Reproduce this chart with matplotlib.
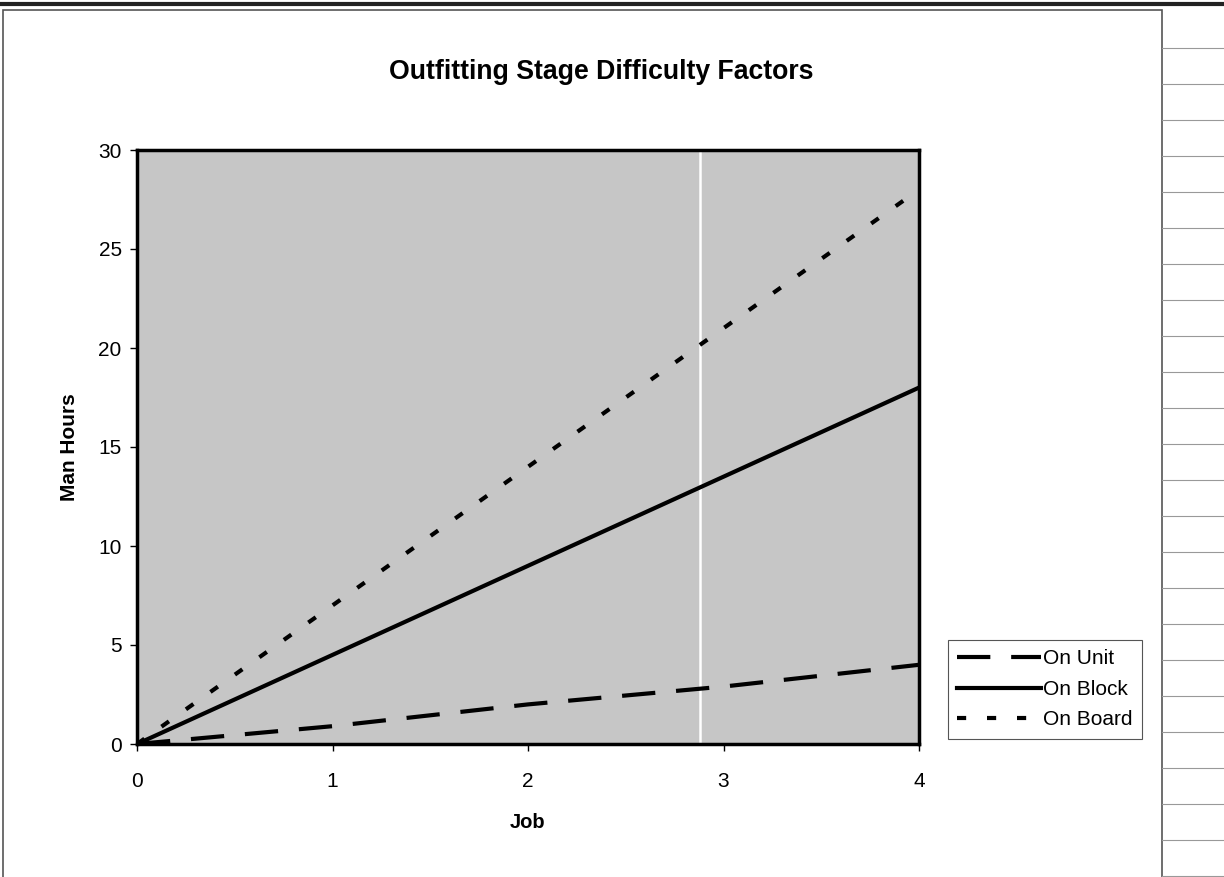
import matplotlib.pyplot as plt
from matplotlib.lines import Line2D
from matplotlib.patches import Rectangle

plt.rcParams['font.family'] = ['Liberation Sans', 'DejaVu Sans']

job = [0, 1, 2, 3, 4]
on_unit = [0, 0.9, 2.0, 2.9, 4.0]
on_block = [0, 4.5, 9.0, 13.5, 18.0]
on_board = [0, 7.0, 14.0, 21.0, 28.0]

W, H = 1224, 877
fig = plt.figure(figsize=(W / 100, H / 100), dpi=100)

# chart area border and spreadsheet bits around it
fig.add_artist(Rectangle((3 / W, -0.01), 1159 / W, (H - 10) / H + 0.01, transform=fig.transFigure,
                         fill=False, edgecolor='#555555', lw=1.2))
fig.add_artist(Line2D([0, 1], [1 - 4 / H, 1 - 4 / H], transform=fig.transFigure, color='#222222', lw=3))
for yp in range(48, H, 36):
    fig.add_artist(Line2D([1162 / W, 1], [1 - yp / H, 1 - yp / H], transform=fig.transFigure,
                          color='#999999', lw=0.8))

ax = fig.add_axes([137 / W, 1 - 744 / H, 782 / W, 594 / H])
ax.set_facecolor('#c6c6c6')

# scan artefact: thin white stripe through the plot area
ax.axvline(2.88, color='white', lw=1.8, zorder=1)

ax.plot(job, on_unit, color='black', lw=3, dashes=(8, 5), label='On Unit', zorder=3)
ax.plot(job, on_block, color='black', lw=3, label='On Block', zorder=3)
ax.plot(job, on_board, color='black', lw=3, dashes=(2.2, 5), label='On Board', zorder=3)

ax.set_xlim(0, 4)
ax.set_ylim(0, 30)
ax.set_xticks([0, 1, 2, 3, 4])
ax.set_yticks([0, 5, 10, 15, 20, 25, 30])
ax.tick_params(labelsize=15, length=5, width=1, direction='out')
ax.tick_params(axis='x', pad=15)
ax.tick_params(axis='y', pad=6)
for s in ax.spines.values():
    s.set_linewidth(2.5)

ax.set_xlabel('Job', fontsize=14.5, fontweight='bold', labelpad=16)
ax.set_ylabel('Man Hours', fontsize=15, fontweight='bold', labelpad=14)
fig.text(601 / W, 1 - 72 / H, 'Outfitting Stage Difficulty Factors', ha='center', va='center',
         fontsize=19.2, fontweight='bold')

leg = fig.legend(loc='upper left', bbox_to_anchor=(948 / W, 1 - 640 / H), fontsize=15,
                 handlelength=4.0, handletextpad=0.1, borderpad=0.45, labelspacing=0.55,
                 borderaxespad=0, fancybox=False, framealpha=1, edgecolor='#555555')
leg.get_frame().set_linewidth(0.8)

fig.savefig('out.png', dpi=100)
